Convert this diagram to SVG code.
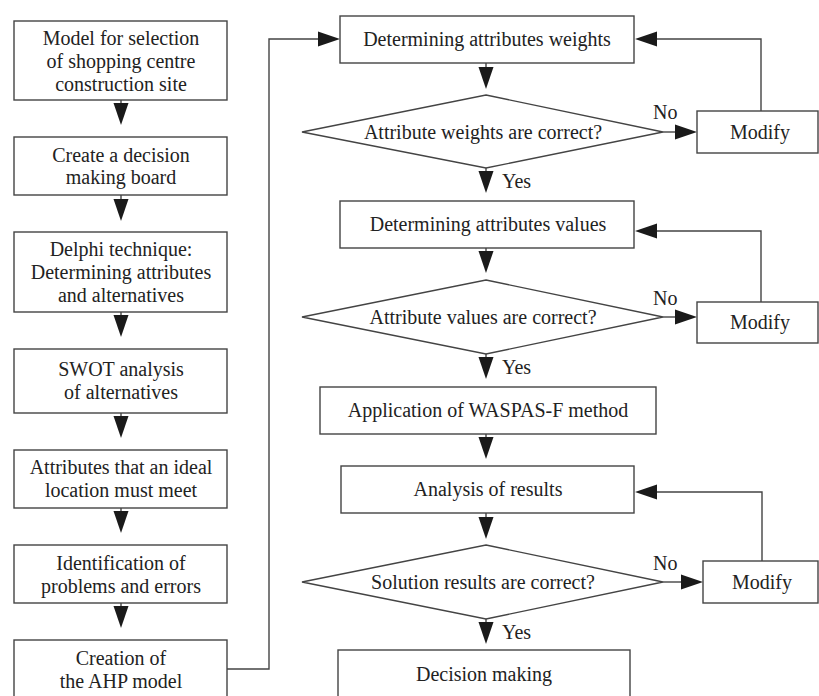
<svg xmlns="http://www.w3.org/2000/svg" width="819" height="696" viewBox="0 0 819 696">
<style>
.box{fill:#fff;stroke:#444;stroke-width:1.4}
.t{font-size:20px;fill:#222;text-anchor:middle}
.l{font-size:20px;fill:#222}
.a{fill:none;stroke:#444;stroke-width:1.4}
.h{fill:#1a1a1a}
</style>
<rect width="819" height="696" fill="#fff"/>
<g id="connectors">
<line class="a" x1="121" y1="100" x2="121" y2="110"/><polygon class="h" points="113.5,103 128.5,103 121,125"/>
<line class="a" x1="121" y1="195" x2="121" y2="205"/><polygon class="h" points="113.5,199 128.5,199 121,221"/>
<line class="a" x1="121" y1="312" x2="121" y2="322"/><polygon class="h" points="113.5,315 128.5,315 121,337"/>
<line class="a" x1="121" y1="413" x2="121" y2="423"/><polygon class="h" points="113.5,416 128.5,416 121,438"/>
<line class="a" x1="121" y1="508" x2="121" y2="518"/><polygon class="h" points="113.5,511 128.5,511 121,533"/>
<line class="a" x1="121" y1="603" x2="121" y2="613"/><polygon class="h" points="113.5,606 128.5,606 121,628"/>
<polyline class="a" points="227,669 269,669 269,39 320,39"/><polygon class="h" points="318,31.5 318,46.5 340,39"/>
<line class="a" x1="486" y1="63" x2="486" y2="72"/><polygon class="h" points="478.5,67 493.5,67 486,89"/>
<line class="a" x1="486" y1="168" x2="486" y2="176"/><polygon class="h" points="478.5,171 493.5,171 486,193"/>
<line class="a" x1="486" y1="248" x2="486" y2="256"/><polygon class="h" points="478.5,251 493.5,251 486,273"/>
<line class="a" x1="486" y1="354" x2="486" y2="362"/><polygon class="h" points="478.5,357 493.5,357 486,379"/>
<line class="a" x1="486" y1="434" x2="486" y2="442"/><polygon class="h" points="478.5,437 493.5,437 486,459"/>
<line class="a" x1="486" y1="513" x2="486" y2="522"/><polygon class="h" points="478.5,517 493.5,517 486,539"/>
<line class="a" x1="486" y1="619" x2="486" y2="627"/><polygon class="h" points="478.5,622 493.5,622 486,644"/>
<line class="a" x1="663" y1="132" x2="677" y2="132"/><polygon class="h" points="675,124.5 675,139.5 697,132"/>
<line class="a" x1="663" y1="317" x2="677" y2="317"/><polygon class="h" points="675,309.5 675,324.5 697,317"/>
<line class="a" x1="663" y1="582" x2="683" y2="582"/><polygon class="h" points="681,574.5 681,589.5 703,582"/>
<polyline class="a" points="761,111 761,39 655,39"/><polygon class="h" points="657,31.5 657,46.5 635,39"/>
<polyline class="a" points="761,302 761,231 655,231"/><polygon class="h" points="657,223.5 657,238.5 635,231"/>
<polyline class="a" points="762,561 762,492 655,492"/><polygon class="h" points="657,484.5 657,499.5 635,492"/>
<text class="l" font-family="Liberation Serif" x="653" y="119">No</text>
<text class="l" font-family="Liberation Serif" x="653" y="305">No</text>
<text class="l" font-family="Liberation Serif" x="653" y="570">No</text>
<text class="l" font-family="Liberation Serif" x="502" y="188">Yes</text>
<text class="l" font-family="Liberation Serif" x="502" y="374">Yes</text>
<text class="l" font-family="Liberation Serif" x="502" y="639">Yes</text>
</g>
<g id="n1"><rect class="box" x="14" y="21" width="213" height="79"/>
<text class="t" font-family="Liberation Serif" x="121" y="45">Model for selection</text><text class="t" font-family="Liberation Serif" x="121" y="68">of shopping centre</text><text class="t" font-family="Liberation Serif" x="121" y="91">construction site</text></g>
<g id="n2"><rect class="box" x="14" y="137" width="213" height="58"/>
<text class="t" font-family="Liberation Serif" x="121" y="162">Create a decision</text><text class="t" font-family="Liberation Serif" x="121" y="184">making board</text></g>
<g id="n3"><rect class="box" x="14" y="232" width="213" height="80"/>
<text class="t" font-family="Liberation Serif" x="121" y="256">Delphi technique:</text><text class="t" font-family="Liberation Serif" x="121" y="279">Determining attributes</text><text class="t" font-family="Liberation Serif" x="121" y="302">and alternatives</text></g>
<g id="n4"><rect class="box" x="14" y="349" width="213" height="64"/>
<text class="t" font-family="Liberation Serif" x="121" y="376">SWOT analysis</text><text class="t" font-family="Liberation Serif" x="121" y="399">of alternatives</text></g>
<g id="n5"><rect class="box" x="14" y="450" width="213" height="58"/>
<text class="t" font-family="Liberation Serif" x="121" y="474">Attributes that an ideal</text><text class="t" font-family="Liberation Serif" x="121" y="497">location must meet</text></g>
<g id="n6"><rect class="box" x="14" y="545" width="213" height="58"/>
<text class="t" font-family="Liberation Serif" x="121" y="570">Identification of</text><text class="t" font-family="Liberation Serif" x="121" y="593">problems and errors</text></g>
<g id="n7"><rect class="box" x="14" y="640" width="213" height="62"/>
<text class="t" font-family="Liberation Serif" x="121" y="665">Creation of</text><text class="t" font-family="Liberation Serif" x="121" y="688">the AHP model</text></g>
<g id="r1"><rect class="box" x="340" y="16" width="294" height="47"/>
<text class="t" font-family="Liberation Serif" x="487" y="46">Determining attributes weights</text></g>
<g id="d1"><polygon class="box" points="486,95 663,132 486,168 302,132"/>
<text class="t" font-family="Liberation Serif" x="483" y="139">Attribute weights are correct?</text></g>
<g id="m1"><rect class="box" x="697" y="111" width="121" height="42"/>
<text class="t" font-family="Liberation Serif" x="760" y="139">Modify</text></g>
<g id="r2"><rect class="box" x="340" y="201" width="294" height="47"/>
<text class="t" font-family="Liberation Serif" x="488" y="231">Determining attributes values</text></g>
<g id="d2"><polygon class="box" points="486,280 663,317 486,354 302,317"/>
<text class="t" font-family="Liberation Serif" x="483" y="324">Attribute values are correct?</text></g>
<g id="m2"><rect class="box" x="697" y="302" width="121" height="41"/>
<text class="t" font-family="Liberation Serif" x="760" y="329">Modify</text></g>
<g id="r3"><rect class="box" x="320" y="387" width="336" height="47"/>
<text class="t" font-family="Liberation Serif" x="488" y="417">Application of WASPAS-F method</text></g>
<g id="r4"><rect class="box" x="341" y="466" width="293" height="47"/>
<text class="t" font-family="Liberation Serif" x="488" y="496">Analysis of results</text></g>
<g id="d3"><polygon class="box" points="486,545 663,582 486,619 302,582"/>
<text class="t" font-family="Liberation Serif" x="483" y="589">Solution results are correct?</text></g>
<g id="m3"><rect class="box" x="703" y="561" width="115" height="42"/>
<text class="t" font-family="Liberation Serif" x="762" y="589">Modify</text></g>
<g id="r5"><rect class="box" x="338" y="650" width="292" height="52"/>
<text class="t" font-family="Liberation Serif" x="484" y="681">Decision making</text></g>
</svg>
